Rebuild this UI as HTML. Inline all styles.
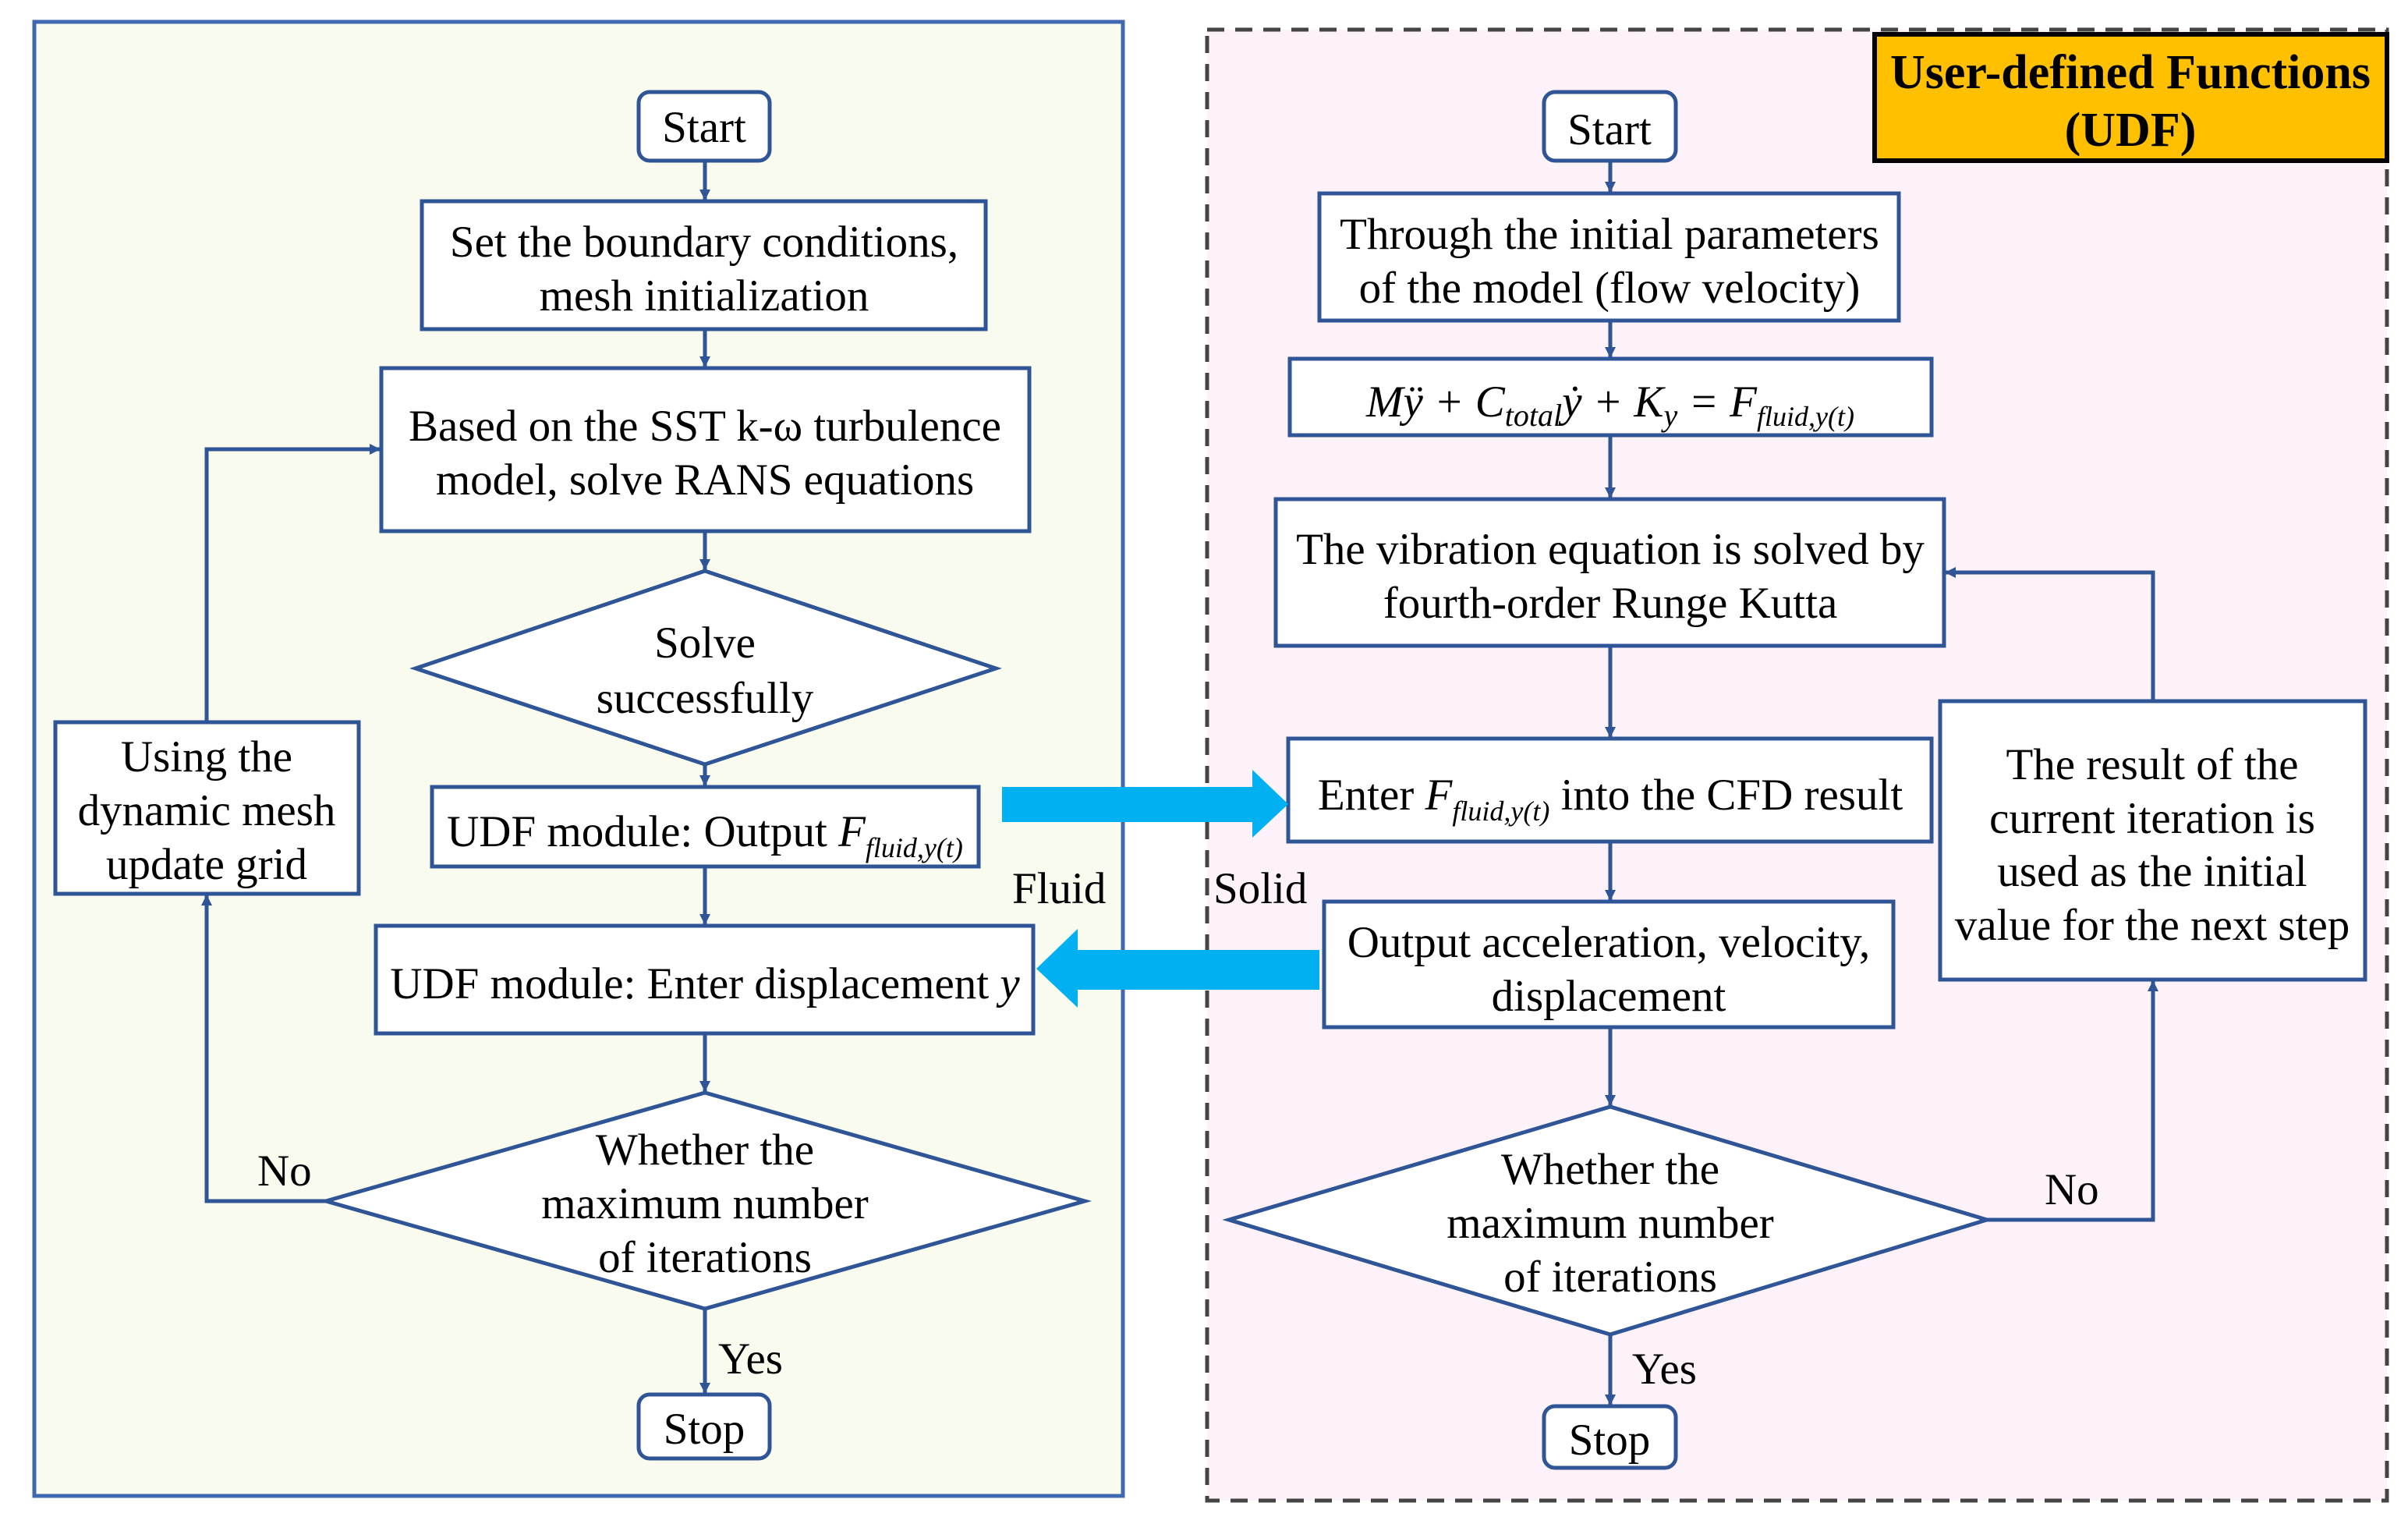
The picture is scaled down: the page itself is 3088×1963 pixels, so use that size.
<!DOCTYPE html>
<html><head><meta charset="utf-8"><style>
html,body{margin:0;padding:0;background:#fff;}
svg{display:block;}
text{font-family:"Liberation Serif",serif;font-size:57px;fill:#000;}
</style></head><body>
<svg width="3088" height="1963" viewBox="0 0 3088 1963" xmlns="http://www.w3.org/2000/svg">
<defs>
<marker id="a" markerWidth="14" markerHeight="14" refX="13" refY="7" orient="auto" markerUnits="userSpaceOnUse" viewBox="0 0 14 14">
<path d="M0,0 L14,7 L0,14 z" fill="#2f5597"/></marker>
</defs>
<rect x="44" y="28" width="1396" height="1890" fill="#f8fbee" stroke="#4068b0" stroke-width="5"/>
<rect x="1548" y="38" width="1513" height="1886" fill="#fdf1fa" stroke="#444" stroke-width="5" stroke-dasharray="22,14"/>
<rect x="2404" y="44" width="657" height="162" fill="#ffc000" stroke="#000" stroke-width="6"/>
<text x="2732" y="113" text-anchor="middle" font-weight="bold" style="font-size:62px">User-defined Functions</text>
<text x="2732" y="187" text-anchor="middle" font-weight="bold" style="font-size:62px">(UDF)</text>

<g fill="#fff" stroke="#2f5597" stroke-width="5">
<rect x="819" y="118" width="168" height="88" rx="14"/>
<rect x="541" y="258" width="723" height="164"/>
<rect x="489" y="472" width="831" height="209"/>
<polygon points="533,857 904,732 1277,857 904,980"/>
<rect x="554" y="1009" width="701" height="102"/>
<rect x="482" y="1187" width="843" height="138"/>
<polygon points="418,1540 904,1401 1391,1540 904,1678"/>
<rect x="819" y="1788" width="168" height="82" rx="14"/>
<rect x="71" y="926" width="389" height="220"/>
<rect x="1980" y="118" width="169" height="88" rx="14"/>
<rect x="1692" y="248" width="743" height="163"/>
<rect x="1654" y="460" width="823" height="98"/>
<rect x="1636" y="640" width="857" height="188"/>
<rect x="1652" y="947" width="825" height="132"/>
<rect x="1698" y="1156" width="730" height="161"/>
<polygon points="1576,1564 2065,1419 2548,1564 2065,1711"/>
<rect x="1980" y="1803" width="169" height="79" rx="14"/>
<rect x="2488" y="899" width="545" height="357"/>
</g>

<g fill="none" stroke="#2f5597" stroke-width="5">
<line x1="904" y1="206" x2="904" y2="256" marker-end="url(#a)"/>
<line x1="904" y1="422" x2="904" y2="470" marker-end="url(#a)"/>
<line x1="904" y1="681" x2="904" y2="730" marker-end="url(#a)"/>
<line x1="904" y1="980" x2="904" y2="1007" marker-end="url(#a)"/>
<line x1="904" y1="1111" x2="904" y2="1185" marker-end="url(#a)"/>
<line x1="904" y1="1325" x2="904" y2="1399" marker-end="url(#a)"/>
<line x1="904" y1="1678" x2="904" y2="1786" marker-end="url(#a)"/>
<polyline points="418,1540 265,1540 265,1148" marker-end="url(#a)"/>
<polyline points="265,926 265,576 487,576" marker-end="url(#a)"/>

<line x1="2065" y1="206" x2="2065" y2="246" marker-end="url(#a)"/>
<line x1="2065" y1="411" x2="2065" y2="458" marker-end="url(#a)"/>
<line x1="2065" y1="558" x2="2065" y2="638" marker-end="url(#a)"/>
<line x1="2065" y1="828" x2="2065" y2="945" marker-end="url(#a)"/>
<line x1="2065" y1="1079" x2="2065" y2="1154" marker-end="url(#a)"/>
<line x1="2065" y1="1317" x2="2065" y2="1417" marker-end="url(#a)"/>
<line x1="2065" y1="1711" x2="2065" y2="1801" marker-end="url(#a)"/>
<polyline points="2548,1564 2761,1564 2761,1258" marker-end="url(#a)"/>
<polyline points="2761,899 2761,734 2495,734" marker-end="url(#a)"/>
</g>

<polygon points="1285,1009 1606,1009 1606,987 1652,1031 1606,1074 1606,1054 1285,1054" fill="#00b0f0"/>
<polygon points="1692,1218 1382,1218 1382,1191 1329,1242 1382,1292 1382,1269 1692,1269" fill="#00b0f0"/>

<g text-anchor="middle">
<text x="903" y="182">Start</text>
<text x="903" y="329">Set the boundary conditions,</text>
<text x="903" y="398">mesh initialization</text>
<text x="904" y="565">Based on the SST k-ω turbulence</text>
<text x="904" y="634">model, solve RANS equations</text>
<text x="904" y="843">Solve</text>
<text x="904" y="914">successfully</text>
<text x="904" y="1085">UDF module: Output <tspan font-style="italic">F</tspan><tspan font-style="italic" style="font-size:36px" dy="14">fluid,y(t)</tspan></text>
<text x="904" y="1280">UDF module: Enter displacement <tspan font-style="italic">y</tspan></text>
<text x="904" y="1493">Whether the</text>
<text x="904" y="1562">maximum number</text>
<text x="904" y="1631">of iterations</text>
<text x="903" y="1851">Stop</text>
<text x="265" y="989">Using the</text>
<text x="265" y="1058">dynamic mesh</text>
<text x="265" y="1127">update grid</text>

<text x="2064" y="185">Start</text>
<text x="2064" y="319">Through the initial parameters</text>
<text x="2064" y="388">of the model (flow velocity)</text>
<text x="2065" y="534" font-style="italic">Mÿ + C<tspan style="font-size:40px" dy="12">total</tspan><tspan dy="-12">ẏ + K</tspan><tspan style="font-size:40px" dy="12">y</tspan><tspan dy="-12"> = F</tspan><tspan style="font-size:36px" dy="12">fluid,y(t)</tspan></text>
<text x="2065" y="723">The vibration equation is solved by</text>
<text x="2065" y="792">fourth-order Runge Kutta</text>
<text x="2065" y="1038">Enter <tspan font-style="italic">F</tspan><tspan font-style="italic" style="font-size:36px" dy="14">fluid,y(t)</tspan><tspan dy="-14">  into the CFD result</tspan></text>
<text x="2063" y="1227">Output acceleration, velocity,</text>
<text x="2063" y="1296">displacement</text>
<text x="2065" y="1518">Whether the</text>
<text x="2065" y="1587">maximum number</text>
<text x="2065" y="1656">of iterations</text>
<text x="2064" y="1865">Stop</text>
<text x="2760" y="999">The result of the</text>
<text x="2760" y="1068">current iteration is</text>
<text x="2760" y="1136">used as the initial</text>
<text x="2760" y="1205">value for the next step</text>
</g>
<text x="1298" y="1158">Fluid</text>
<text x="1556" y="1158">Solid</text>
<text x="330" y="1520">No</text>
<text x="921" y="1761">Yes</text>
<text x="2622" y="1544">No</text>
<text x="2093" y="1774">Yes</text>
</svg>
</body></html>
